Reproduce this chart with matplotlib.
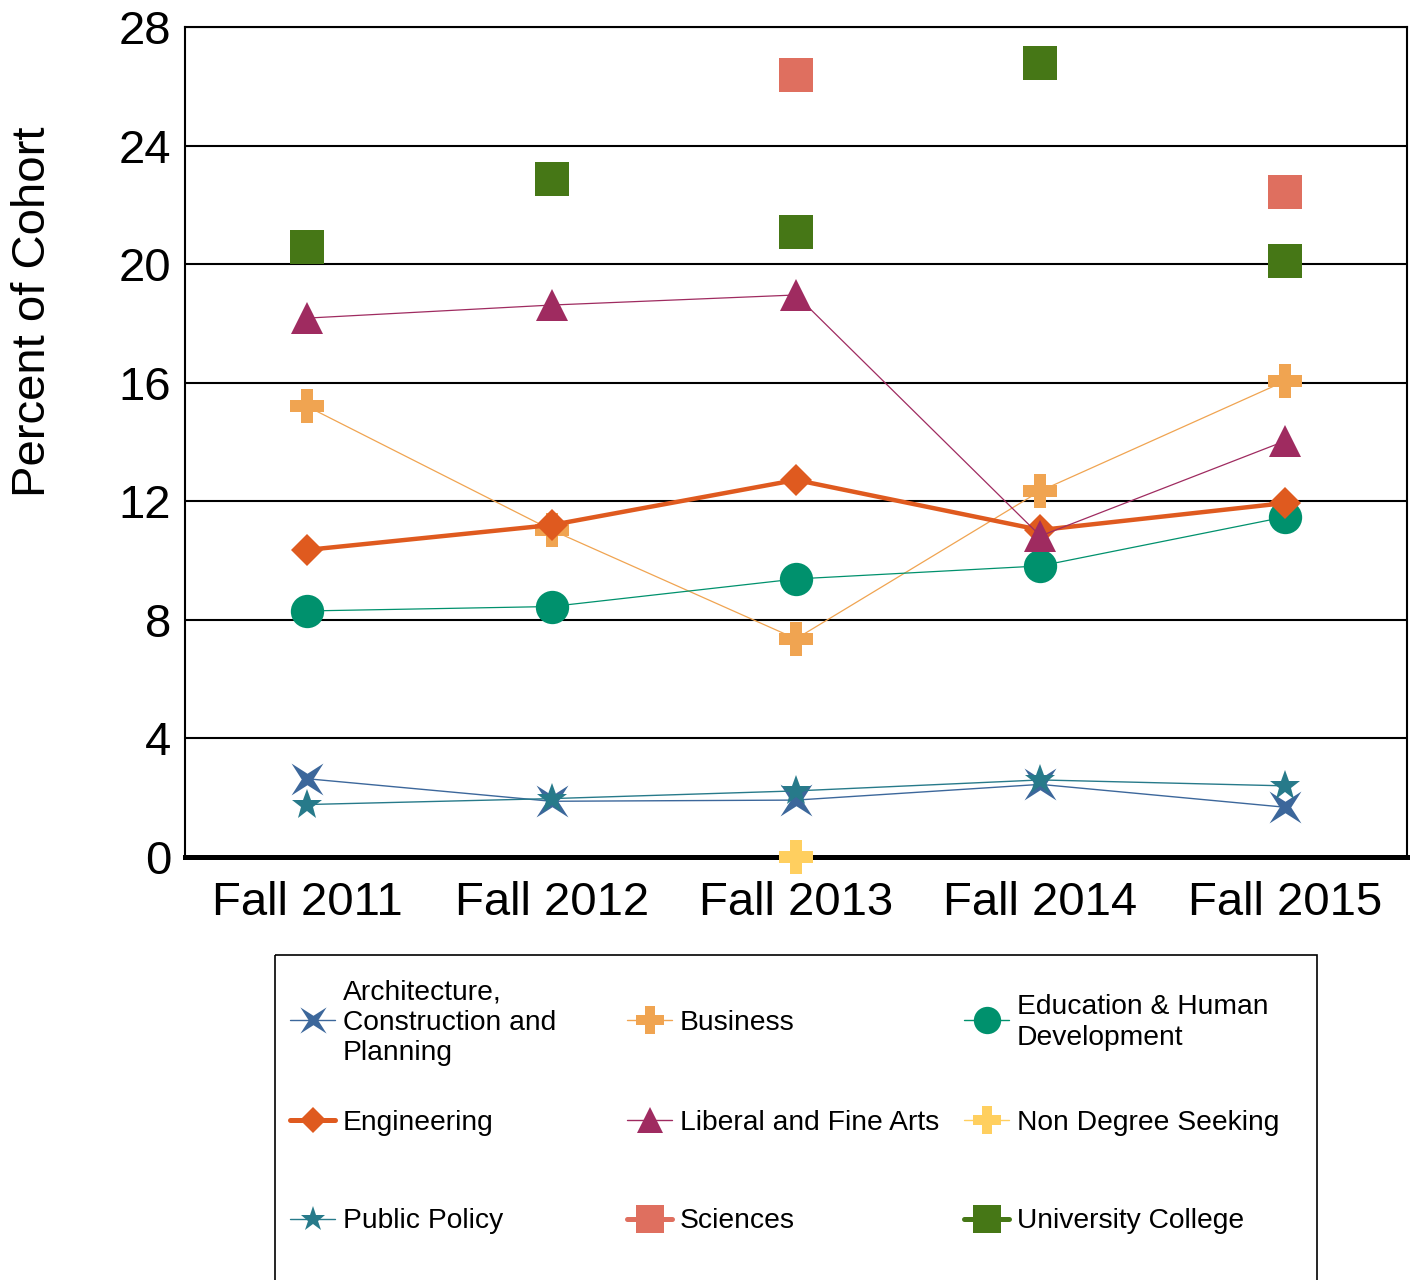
import matplotlib
matplotlib.use('Agg')
import matplotlib.pyplot as plt
from matplotlib.path import Path
from matplotlib.patches import Rectangle
import numpy as np

plt.rcParams['font.family'] = ['Liberation Sans', 'DejaVu Sans']

# ---- data ----
terms = ['Fall 2011', 'Fall 2012', 'Fall 2013', 'Fall 2014', 'Fall 2015']
yticks = [0, 4, 8, 12, 16, 20, 24, 28]

architecture = [2.64, 1.88, 1.92, 2.45, 1.68]
business = [15.2, 11.03, 7.36, 12.35, 16.05]
education = [8.3, 8.45, 9.38, 9.82, 11.47]
engineering = [10.36, 11.2, 12.72, 11.03, 11.94]
liberal_arts = [18.18, 18.62, 18.96, 10.83, 14.03]
non_degree = [np.nan, np.nan, 0.0, np.nan, np.nan]
public_policy = [1.77, 1.97, 2.23, 2.6, 2.4]
sciences = [np.nan, np.nan, 26.38, np.nan, 22.44]
university_college = [20.58, 22.87, 21.09, 26.79, 20.11]

# 4-pointed star (points on the diagonals)
r = 0.36
star4 = Path([(1, 1), (0, r), (-1, 1), (-r, 0), (-1, -1), (0, -r), (1, -1), (r, 0), (1, 1)],
             [Path.MOVETO] + [Path.LINETO] * 7 + [Path.CLOSEPOLY])

# name, values, color, marker, markersize, plot linewidth, legend linewidth, draw line
series = [
    ('Architecture,\nConstruction and\nPlanning', architecture, '#3c679b', star4, 23, 1.0, 1.0, True),
    ('Business', business, '#f0a451', 'P', 24, 0.9, 1.0, True),
    ('Education & Human\nDevelopment', education, '#00916d', 'o', 24, 0.9, 1.0, True),
    ('Engineering', engineering, '#df5a1f', 'D', 16, 3.2, 3.6, True),
    ('Liberal and Fine Arts', liberal_arts, '#9f2b60', '^', 23, 0.9, 1.0, True),
    ('Non Degree Seeking', non_degree, '#ffcf5f', 'P', 24, 0.9, 1.0, True),
    ('Public Policy', public_policy, '#277a8a', '*', 23, 1.0, 1.0, True),
    ('Sciences', sciences, '#df6f5f', 's', 24, 0, 3.6, False),
    ('University College', university_college, '#467716', 's', 24, 0, 3.6, False),
]
plot_order = [0, 6, 1, 2, 3, 4, 5, 7, 8]

fig = plt.figure(figsize=(14.1, 12.8), dpi=100)
W, H = 1410, 1280
ax = fig.add_axes([185 / W, 1 - 857 / H, 1222 / W, 830 / H])

x = np.arange(len(terms))
for i in plot_order:
    name, vals, col, mk, ms, lw, _, line = series[i]
    ax.plot(x, vals, color=col, lw=lw if line else 0, linestyle='-' if line else 'none',
            marker=mk, markersize=ms, markeredgewidth=0, zorder=3 + i * 0.1,
            clip_on=(name != 'Non Degree Seeking'))

ax.set_xlim(-0.5, len(terms) - 0.5)
ax.set_ylim(0, 28)
ax.set_xticks(x)
ax.set_xticklabels(terms, fontsize=34)
ax.set_yticks(yticks)
ax.set_yticklabels([str(t) for t in yticks], fontsize=34)
ax.tick_params(axis='both', length=0)
ax.tick_params(axis='x', pad=17)
ax.tick_params(axis='y', pad=10)
ax.grid(axis='y', color='black', lw=1.5)
ax.set_axisbelow(True)
for s in ['top', 'left', 'right']:
    ax.spines[s].set_linewidth(1.5)
ax.spines['bottom'].set_linewidth(3.6)
ax.spines['bottom'].set_zorder(2.5)

fig.text(33 / W, 1 - 312 / H, 'Percent of Cohort', rotation=90, fontsize=34,
         ha='center', va='center')

# ---- legend, laid out on a grid like the original ----
lax = fig.add_axes([0, 0, 1, 1])
lax.set_xlim(0, W)
lax.set_ylim(H, 0)
lax.axis('off')
lax.add_patch(Rectangle((275, 955), 1042, 400, fill=False, ec='black', lw=1.2))
col_x = [290, 627, 964]
row_y = [1020, 1120, 1219]
for i, (name, vals, col, mk, ms, lw, llw, line) in enumerate(series):
    hx = col_x[i % 3]
    hy = row_y[i // 3]
    lax.plot([hx, hx + 22.5, hx + 45], [hy, hy, hy], color=col, lw=llw,
             solid_capstyle='round', marker=mk, markersize=ms * 0.82,
             markeredgewidth=0, markevery=[1])
    lax.text(hx + 53, hy + 2.5, name, fontsize=20.3, ha='left', va='center',
             linespacing=1.22)

fig.savefig('out.png', dpi=100)
